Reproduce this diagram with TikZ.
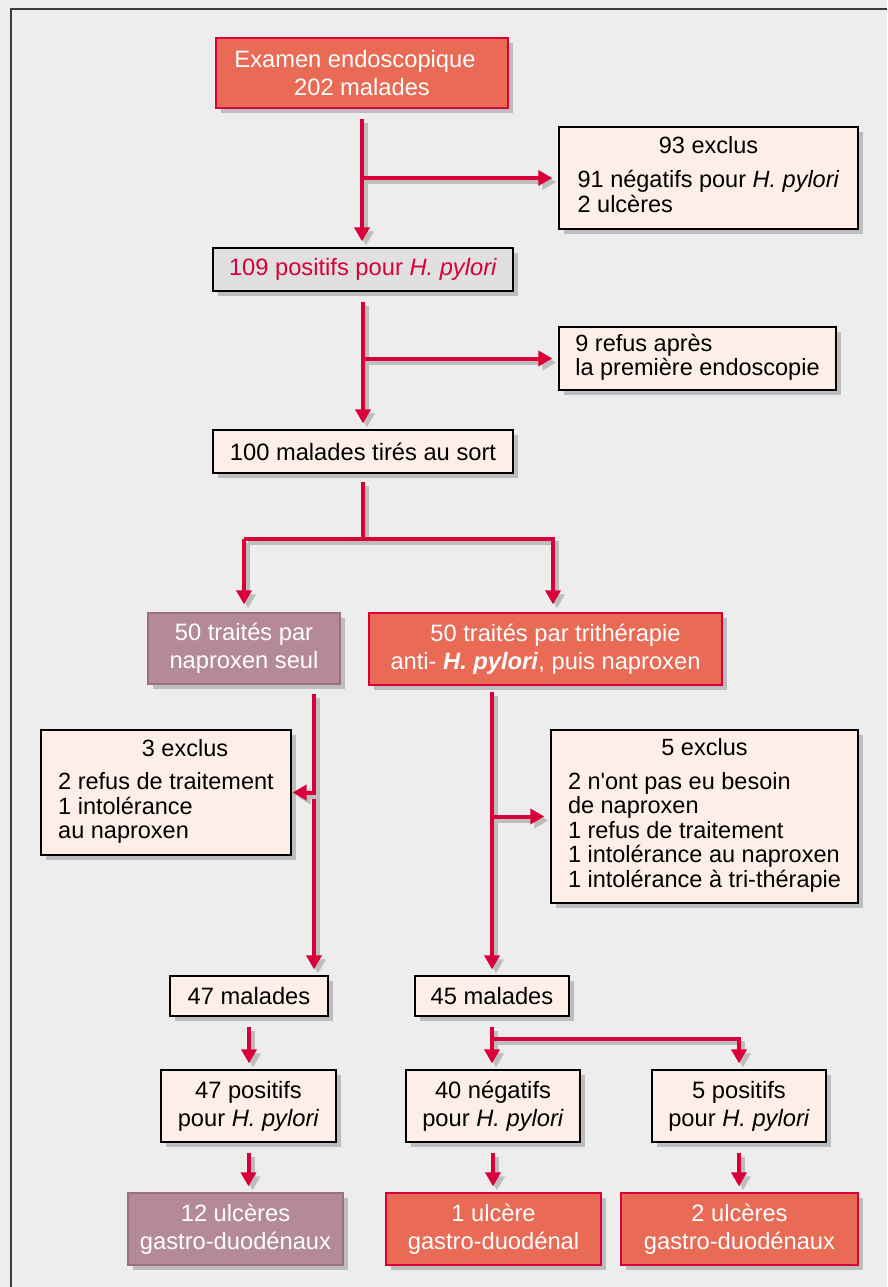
\documentclass[tikz,border=0pt]{standalone}
\usepackage{fontspec}
\setmainfont{Liberation Sans}
\usetikzlibrary{shadows,arrows.meta}
\definecolor{bgcol}{HTML}{EDEDED}
\definecolor{redfill}{HTML}{E96A55}
\definecolor{redline}{HTML}{D9003A}
\definecolor{mauvefill}{HTML}{B48A97}
\definecolor{mauveline}{HTML}{9C7080}
\definecolor{lightfill}{HTML}{FDEEE8}
\definecolor{grayfill}{HTML}{E0E0E0}
\definecolor{shgray}{HTML}{BDBDBD}
\definecolor{framecol}{HTML}{3A3A3A}
\newcommand\bodyfont{\fontsize{23.7}{28}\selectfont}
\newcommand\listfont{\fontsize{23.5}{24.5}\selectfont}
\newcommand\conn[2][]{\draw[shln,#1] #2; \draw[redln,#1] #2;}
\newcommand\ctr[1]{\multicolumn{1}{@{}c@{}}{#1}}
\tikzset{
  box/.style={draw, line width=1.3pt, inner sep=0pt, font=\bodyfont,
    drop shadow={shadow xshift=5pt, shadow yshift=-5pt, fill=shgray, opacity=1}},
  light/.style={box, fill=lightfill, draw=black},
  listbox/.style={light, font=\listfont},
  redb/.style={box, fill=redfill, draw=redline, text=white},
  mauveb/.style={box, fill=mauvefill, draw=mauveline, text=white},
  grayb/.style={box, fill=grayfill, draw=black, text=redline},
  redln/.style={line width=4pt, draw=redline},
  shln/.style={line width=4pt, draw=shgray, transform canvas={shift={(4pt,-4pt)}}},
  arr/.style={-{Triangle[length=14pt,width=15pt]}, shorten >=6pt},
}
\begin{document}
\begin{tikzpicture}[x=1pt,y=-1pt]
\useasboundingbox (0,0) rectangle (887,1287);
\fill[bgcol] (0,0) rectangle (887,1287);
\draw[line width=2pt, draw=framecol] (11,1287) -- (11,9) -- (887,9);

% nodes
\node[redb, minimum width=292pt, minimum height=70pt, align=center] (top) at (362,73)
  {Examen endoscopique\hspace*{14pt}\\202 malades};
\node[listbox, minimum width=299pt, minimum height=102pt] (ex1) at (708.5,178)
  {\begin{tabular}{@{}l@{}}\ctr{93 exclus}\\[9pt]91 négatifs pour \textit{H. pylori}\\2 ulcères\end{tabular}};
\node[grayb, minimum width=300pt, minimum height=43pt] (pos) at (363,269.5)
  {109 positifs pour \textit{H. pylori}};
\node[listbox, minimum width=277pt, minimum height=63pt] (r9) at (697.5,358.5)
  {\begin{tabular}{@{}l@{}}9 refus après\\la première endoscopie\end{tabular}};
\node[light, minimum width=300pt, minimum height=43pt] (tir) at (363,451.5)
  {100 malades tirés au sort};
\node[mauveb, minimum width=192pt, minimum height=71pt, align=center] (nap) at (244,648.5)
  {50 traités par\\naproxen seul};
\node[redb, minimum width=353pt, minimum height=72pt, align=center] (tri) at (545.5,649)
  {\hspace*{20pt}50 traités par trithérapie\\anti- \textbf{\textit{H. pylori}}, puis naproxen};
\node[listbox, minimum width=250pt, minimum height=125pt] (ex3) at (166,792.5)
  {\begin{tabular}{@{}l@{}}\ctr{\hspace{38pt}3 exclus}\\[9pt]2 refus de traitement\\1 intolérance\\au naproxen\end{tabular}};
\node[listbox, minimum width=307pt, minimum height=173pt] (ex5) at (704.5,816.5)
  {\begin{tabular}{@{}l@{}}\ctr{5 exclus}\\[9pt]2 n\textquotesingle ont pas eu besoin\\de naproxen\\1 refus de traitement\\1 intolérance au naproxen\\1 intolérance à tri-thérapie\end{tabular}};
\node[light, minimum width=158pt, minimum height=40pt] (m47) at (249,996) {47 malades};
\node[light, minimum width=154pt, minimum height=40pt] (m45) at (492,996) {45 malades};
\node[light, minimum width=175pt, minimum height=72pt, align=center] (p47) at (248.5,1106)
  {47 positifs\\pour \textit{H. pylori}};
\node[light, minimum width=174pt, minimum height=72pt, align=center] (n40) at (493,1106)
  {40 négatifs\\pour \textit{H. pylori}};
\node[light, minimum width=174pt, minimum height=72pt, align=center] (p5) at (739,1106)
  {5 positifs\\pour \textit{H. pylori}};
\node[mauveb, minimum width=215pt, minimum height=72pt, align=center] (u12) at (235.5,1229)
  {12 ulcères\\gastro-duodénaux};
\node[redb, minimum width=215pt, minimum height=72pt, align=center] (u1) at (493.5,1229)
  {1 ulcère\\gastro-duodénal};
\node[redb, minimum width=237pt, minimum height=72pt, align=center] (u2) at (739.5,1229)
  {2 ulcères\\gastro-duodénaux};

% helper coordinates
\coordinate (sp) at (363,539);
\coordinate (spR) at (553,539);
\coordinate (L) at (314,700);
\coordinate (sp2) at (492,1039);

% connectors
\conn[arr]{([yshift=-10pt]top.south) -- (top.south |- pos.north)}
\conn[arr]{(top.south |- ex1.west) -- (ex1.west)}
\conn[arr]{([yshift=-10pt]pos.south) -- (pos.south |- tir.north)}
\conn[arr]{(pos.south |- r9.west) -- (r9.west)}
\conn{([yshift=-8pt]tir.south) -- (tir.south |- sp)}
\conn[arr,shorten >=8pt]{(nap.north |- sp) -- (spR) -- (spR |- tri.north)}
\conn[arr,shorten >=8pt]{(nap.north |- sp) -- (nap.north)}
\conn[arr]{([yshift=-9pt]nap.south -| L) -- (L |- m47.north)}
\conn[arr,shorten >=1pt]{(L |- ex3.east) -- (ex3.east)}
\conn[arr]{([yshift=-6pt]tri.south -| m45.north) -- (m45.north)}
\conn[arr]{(m45.north |- ex5.west) -- (ex5.west)}
\conn[arr]{([yshift=-10pt]m47.south) -- (m47.south |- p47.north)}
\conn{([yshift=-10pt]m45.south) -- (m45.south |- sp2)}
\conn[arr]{(m45.south |- sp2) -- (sp2 -| p5.north) -- (p5.north)}
\conn[arr]{(m45.south |- sp2) -- (m45.south |- n40.north)}
\conn[arr]{([yshift=-10pt]p47.south) -- (p47.south |- u12.north)}
\conn[arr]{([yshift=-10pt]n40.south) -- (n40.south |- u1.north)}
\conn[arr]{([yshift=-10pt]p5.south) -- (p5.south |- u2.north)}
\end{tikzpicture}
\end{document}
